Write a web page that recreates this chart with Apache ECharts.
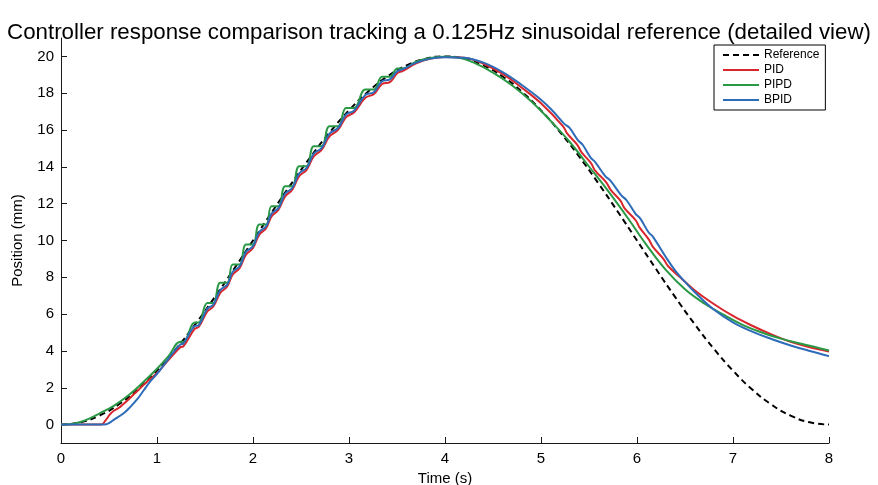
<!DOCTYPE html>
<html>
<head>
<meta charset="utf-8">
<script src="https://cdn.jsdelivr.net/npm/echarts@6/dist/echarts.min.js"></script>
<style>
html,body{margin:0;padding:0;background:#fff;}
#c{width:878px;height:485px;}
</style>
</head>
<body>
<div id="c"></div>
<script>
// ---- data ----
const xTicks = [0, 1, 2, 3, 4, 5, 6, 7, 8];
const yTicks = [0, 2, 4, 6, 8, 10, 12, 14, 16, 18, 20];
const seriesNames = ['Reference', 'PID', 'PIPD', 'BPID'];

const refT = [0,0.2,0.4,0.6,0.8,1,1.2,1.4,1.6,1.8,2,2.2,2.4,2.6,2.8,3,3.2,3.4,3.6,3.8,4,4.2,4.4,4.6,4.8,5,5.2,5.4,5.6,5.8,6,6.2,6.4,6.6,6.8,7,7.2,7.4,7.6,7.8,8];
const refY = [0,0.123,0.489,1.090,1.910,2.929,4.122,5.460,6.910,8.436,10,11.564,13.090,14.540,15.878,17.071,18.090,18.910,19.511,19.877,20,19.877,19.511,18.910,18.090,17.071,15.878,14.540,13.090,11.564,10,8.436,6.910,5.460,4.122,2.929,1.910,1.090,0.489,0.123,0];

const pidT = [0,0.42,0.46,0.51,0.55,0.6,0.65,0.72,0.79,0.89,1.0,1.1,
  1.243,1.274,1.392,1.434,1.524,1.585,1.659,1.731,1.789,1.860,1.927,1.998,2.066,2.137,2.193,2.264,2.335,2.408,2.481,2.558,2.633,2.714,2.797,2.886,2.970,3.052,3.170,3.258,3.345,3.426,3.504,3.557,
  3.7,3.85,4.0,4.2,4.4,4.6,4.8,5.0,
  5.23,5.274,5.378,5.421,5.521,5.564,5.681,5.726,5.829,5.871,5.986,6.028,6.124,6.166,6.275,6.325,
  6.45,6.6,6.8,7.0,7.2,7.4,7.6,7.8,8.0];
const pidY = [0,0,0.2,0.55,0.75,0.9,1.12,1.45,1.8,2.3,2.8,3.4,
  4.2,4.25,5.2,5.3,6.15,6.4,7.15,7.5,8.15,8.5,9.23,9.58,10.32,10.67,11.31,11.66,12.4,12.75,13.49,13.84,14.57,14.92,15.66,16.01,16.7,16.95,17.75,17.95,18.5,18.6,19.1,19.2,
  19.62,19.88,19.97,19.93,19.6,19.05,18.3,17.45,
  16.2,15.8,15.2,14.8,14.2,13.8,13.15,12.75,12.15,11.75,11.1,10.7,10.05,9.65,9.0,8.6,
  8.0,7.3,6.55,5.9,5.37,4.9,4.5,4.2,3.97];

const pipdT = [0,0.1,0.2,0.3,0.4,0.55,0.7,0.85,1.0,1.12,
  1.243,1.274,1.392,1.434,1.524,1.585,1.659,1.731,1.789,1.860,1.927,1.998,2.066,2.137,2.193,2.264,2.335,2.408,2.481,2.558,2.633,2.714,2.797,2.886,2.970,3.052,3.170,3.258,3.345,3.426,3.504,3.557,
  3.7,3.85,4.0,4.15,4.3,4.5,4.7,4.9,5.1,5.3,5.5,5.7,5.9,6.1,6.3,6.5,6.7,6.9,7.1,7.3,7.5,7.7,8.0];
const pipdY = [0,0.02,0.14,0.34,0.6,1.02,1.58,2.27,3.03,3.72,
  4.5,4.5,5.55,5.55,6.6,6.6,7.7,7.7,8.7,8.7,9.78,9.78,10.87,10.87,11.86,11.86,12.95,12.95,14.04,14.04,15.12,15.12,16.21,16.21,17.2,17.2,18.2,18.2,18.9,18.9,19.35,19.35,
  19.72,19.92,19.98,19.92,19.66,19.12,18.42,17.55,16.5,15.35,14.02,12.68,11.25,9.75,8.4,7.35,6.58,5.97,5.42,5.0,4.67,4.4,4.03];

const bpidT = [0,0.45,0.5,0.56,0.65,0.72,0.79,0.86,0.93,1.0,1.08,1.16,
  1.243,1.274,1.392,1.434,1.524,1.585,1.659,1.731,1.789,1.860,1.927,1.998,2.066,2.137,2.193,2.264,2.335,2.408,2.481,2.558,2.633,2.714,2.797,2.886,2.970,3.052,3.170,3.258,3.345,3.426,3.504,3.557,
  3.7,3.85,4.0,4.2,4.4,4.6,4.8,5.0,5.12,
  5.24,5.30,5.384,5.434,5.517,5.566,5.669,5.723,5.837,5.889,5.985,6.033,6.12,6.167,
  6.3,6.4,6.5,6.6,6.8,7.0,7.2,7.4,7.6,7.8,8.0];
const bpidY = [0,0,0.08,0.3,0.6,0.95,1.35,1.85,2.35,2.75,3.3,3.85,
  4.35,4.4,5.35,5.4,6.3,6.5,7.3,7.6,8.3,8.6,9.38,9.68,10.47,10.77,11.46,11.76,12.55,12.85,13.64,13.94,14.72,15.02,15.81,16.11,16.85,17.05,17.9,18.05,18.65,18.75,19.2,19.3,
  19.66,19.88,19.96,19.93,19.66,19.15,18.45,17.65,17.05,
  16.35,16.1,15.45,15.2,14.5,14.25,13.5,13.25,12.45,12.2,11.45,11.2,10.45,10.2,
  9.1,8.35,7.75,7.2,6.25,5.55,5.05,4.65,4.3,4.0,3.72];

// ---- chart ----
function pairs(t, y) { return t.map((v, i) => [v, y[i]]); }
const FONT = '"Liberation Sans", Arial, Helvetica, sans-serif';
const chart = echarts.init(document.getElementById('c'), null, {renderer: 'canvas'});
const axisColor = '#1a1a1a';
chart.setOption({
  animation: false,
  backgroundColor: '#ffffff',
  title: {
    text: 'Controller response comparison tracking a 0.125Hz sinusoidal reference (detailed view)',
    left: 'center', top: 17,
    textStyle: {fontFamily: FONT, fontSize: 22.3, fontWeight: 'normal', color: '#000'}
  },
  legend: {
    data: seriesNames,
    orient: 'vertical',
    left: 714, top: 45,
    itemWidth: 36, itemHeight: 12, itemGap: 3,
    padding: [4, 6, 4, 8],
    borderColor: '#000', borderWidth: 1,
    backgroundColor: '#fff',
    itemStyle: {opacity: 0, borderWidth: 0},
    textStyle: {fontFamily: FONT, fontSize: 12, color: '#000'}
  },
  grid: {left: 61, right: 49, top: 38, height: 405, containLabel: false, outerBoundsMode: 'none'},
  xAxis: {
    type: 'value', min: 0, max: 8, interval: 1,
    name: 'Time (s)', nameLocation: 'middle', nameGap: 22,
    nameTextStyle: {fontFamily: FONT, fontSize: 15, color: '#000'},
    axisLine: {show: true, onZero: false, lineStyle: {color: axisColor, width: 1}},
    axisTick: {show: true, inside: true, length: 6, lineStyle: {color: axisColor}},
    axisLabel: {fontFamily: FONT, fontSize: 15, color: '#000', margin: 8},
    splitLine: {show: false}
  },
  yAxis: {
    type: 'value', min: -1, max: 21,
    name: 'Position (mm)', nameLocation: 'middle', nameGap: 36, nameRotate: 90,
    nameTextStyle: {fontFamily: FONT, fontSize: 15, color: '#000'},
    axisLine: {show: true, onZero: false, lineStyle: {color: axisColor, width: 1}},
    axisTick: {show: true, inside: true, length: 6, customValues: yTicks, lineStyle: {color: axisColor}},
    axisLabel: {fontFamily: FONT, fontSize: 15, color: '#000', margin: 7, customValues: yTicks},
    splitLine: {show: false}
  },
  series: [
    {name: 'Reference', type: 'line', data: pairs(refT, refY), smooth: 0.5, symbol: 'none',
     lineStyle: {color: '#000', width: 2, type: [6, 4]}, itemStyle: {color: '#000'}, z: 1},
    {name: 'PID', type: 'line', data: pairs(pidT, pidY), smooth: 0.4, symbol: 'none',
     lineStyle: {color: '#d8262c', width: 2}, itemStyle: {color: '#d8262c'}, z: 2},
    {name: 'PIPD', type: 'line', data: pairs(pipdT, pipdY), smooth: 0.4, symbol: 'none',
     lineStyle: {color: '#2a9945', width: 2}, itemStyle: {color: '#2a9945'}, z: 3},
    {name: 'BPID', type: 'line', data: pairs(bpidT, bpidY), smooth: 0.4, symbol: 'none',
     lineStyle: {color: '#2d6cb8', width: 2}, itemStyle: {color: '#2d6cb8'}, z: 4}
  ]
});
</script>
</body>
</html>
